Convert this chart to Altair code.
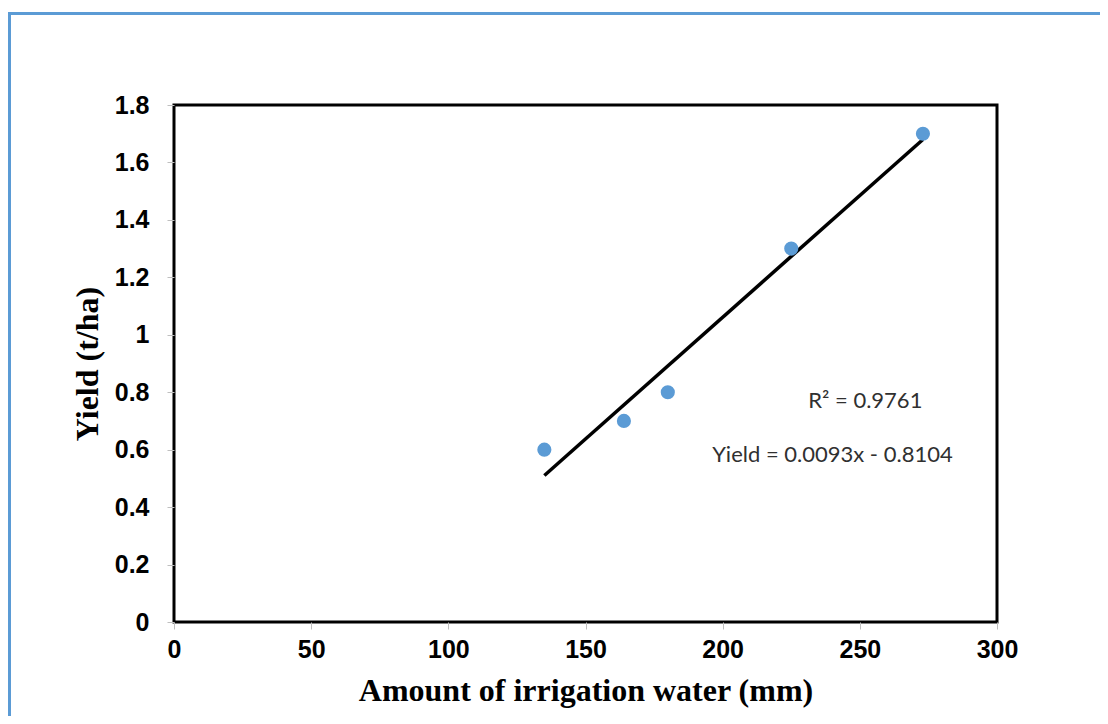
import altair as alt
import pandas as pd

# Observed data
water_mm = [135, 164, 180, 225, 273]
yield_tha = [0.6, 0.7, 0.8, 1.3, 1.7]

# Trendline endpoints as drawn
trend_x = [135, 273]
trend_y = [0.51, 1.68]

x_ticks = [0, 50, 100, 150, 200, 250, 300]
y_ticks = [0, 0.2, 0.4, 0.6, 0.8, 1.0, 1.2, 1.4, 1.6, 1.8]

pts = pd.DataFrame({"x": water_mm, "y": yield_tha})
trend = pd.DataFrame({"x": trend_x, "y": trend_y})

W, H = 823, 517

xscale = alt.Scale(domain=[0, 300], nice=False, zero=False)
yscale = alt.Scale(domain=[0, 1.8], nice=False, zero=False)

xaxis = alt.Axis(values=x_ticks, title="Amount of irrigation water (mm)", grid=False,
                 labelFont="Liberation Sans", labelFontWeight="bold", labelFontSize=25,
                 labelColor="black", labelPadding=8, tickSize=7, tickColor="#bfbfbf",
                 labelFlush=False, labelOverlap=False,
                 domain=False, titleFont="Liberation Serif", titleFontWeight="bold",
                 titleFontSize=32, titleColor="black", titlePadding=13)
yaxis = alt.Axis(values=y_ticks, title="Yield (t/ha)", grid=False, format=".1~f",
                 labelFont="Liberation Sans", labelFontWeight="bold", labelFontSize=25,
                 labelColor="black", labelPadding=18, tickSize=7, tickColor="#bfbfbf",
                 labelFlush=False, labelOverlap=False,
                 domain=False, titleFont="Liberation Serif", titleFontWeight="bold",
                 titleFontSize=32, titleColor="black", titlePadding=10)

points = alt.Chart(pts).mark_circle(size=200, color="#5b9bd5", opacity=1).encode(
    x=alt.X("x:Q", scale=xscale, axis=xaxis),
    y=alt.Y("y:Q", scale=yscale, axis=yaxis),
)

line = alt.Chart(trend).mark_line(color="black", strokeWidth=3.5).encode(
    x=alt.X("x:Q", scale=xscale),
    y=alt.Y("y:Q", scale=yscale),
)

ann = pd.DataFrame({"x": [252, 240], "y": [0.771, 0.58],
                    "t": ["R² = 0.9761", "Yield = 0.0093x - 0.8104"]})
text = alt.Chart(ann).mark_text(font="Lato", fontSize=22, color="#303030", align="center",
                                baseline="middle").encode(
    x=alt.X("x:Q", scale=xscale),
    y=alt.Y("y:Q", scale=yscale),
    text="t:N",
)

border_top = alt.Chart(pd.DataFrame({"a": [0]})).mark_rule(color="#5b9bd5", strokeWidth=3, clip=False).encode(
    x=alt.value(-165), x2=alt.value(934), y=alt.value(-91.5))
border_left = alt.Chart(pd.DataFrame({"a": [0]})).mark_rule(color="#5b9bd5", strokeWidth=3, clip=False).encode(
    x=alt.value(-164.5), y=alt.value(-93), y2=alt.value(620))

chart = alt.layer(border_top, border_left, line, points, text).properties(
    width=W, height=H,
    background="white",
    autosize=alt.AutoSizeParams(type="none"),
    padding={"left": 166, "top": 97, "right": 103, "bottom": 94},
).configure_view(stroke="black", strokeWidth=3)

chart.save("out.html", embed_options={"renderer": "svg", "actions": False})
